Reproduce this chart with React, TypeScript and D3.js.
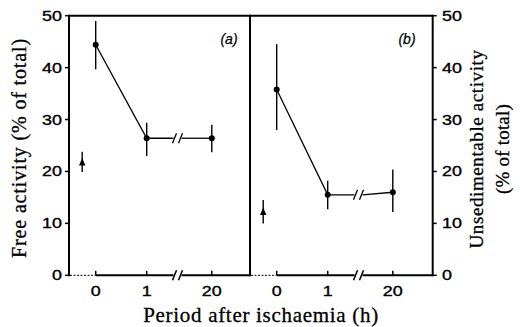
import React from "react";
import * as d3 from "d3";

// ---- data ----
const hours = [0, 1, 20];
const hourLabels = ["0", "1", "20"];
const yTicks = [0, 10, 20, 30, 40, 50];

// (a) Free activity
const freeMean = [44.4, 26.4, 26.4];
const freeLow = [39.7, 23.0, 23.7];
const freeHigh = [49.0, 29.4, 29.0];

// (b) Unsedimentable activity
const unsedMean = [35.8, 15.5, 16.0];
const unsedLow = [28.0, 12.7, 12.2];
const unsedHigh = [44.5, 18.2, 20.4];

// controls (arrow markers) [a, b]
const controlMean = [21.8, 12.3];
const controlLow = [19.9, 10.0];
const controlHigh = [23.8, 14.5];

const panelLabels = ["(a)", "(b)"];

const W = 520;
const H = 327;
const top = 15.7;
const bottom = 275.3;
const panelX = [69, 250];
const panelRight = 432.7;

const y = d3.scaleLinear().domain([0, 50]).range([bottom, top]);
// piecewise (broken) time axis within a panel; -0.25 = control position
const xIn = d3.scaleLinear().domain([-0.25, 0, 1, 20]).range([13.2, 26.7, 77.7, 142.8]);
const breakOff = 108.5;

const sans = "'Liberation Sans', Arial, sans-serif";
const serif = "'Liberation Serif', 'Times New Roman', serif";
const SX = 1.28;

function Num({ x, y: yy, anchor, children }: { x: number; y: number; anchor: string; children: React.ReactNode }) {
  return (
    <text
      transform={`translate(${x},${yy}) scale(${SX},1)`}
      textAnchor={anchor as any}
      fontFamily={sans}
      fontSize={14}
      fill="#000"
      stroke="#000"
      strokeWidth={0.35}
    >
      {children}
    </text>
  );
}

function Slashes({ cx, cy, sw }: { cx: number; cy: number; sw: number }) {
  const g = 3;
  return (
    <g stroke="#000" strokeWidth={sw}>
      <line x1={cx - g - 2} y1={cy + 5} x2={cx - g + 2} y2={cy - 5} />
      <line x1={cx + g - 2} y1={cy + 5} x2={cx + g + 2} y2={cy - 5} />
    </g>
  );
}

function Panel({ idx, mean, low, high }: { idx: number; mean: number[]; low: number[]; high: number[] }) {
  const ox = panelX[idx];
  const px = (h: number) => ox + xIn(h);
  const bx = ox + breakOff;
  const gap = 4;
  const pRight = idx === 0 ? panelX[1] : panelRight;
  const line = d3.line<[number, number]>();
  const seg1: [number, number][] = [
    [px(hours[0]), y(mean[0])],
    [px(hours[1]), y(mean[1])],
    [bx - gap, y(mean[1])],
  ];
  const seg2: [number, number][] = [
    [bx + gap, y(mean[1])],
    [px(hours[2]), y(mean[2])],
  ];
  const cx = px(-0.25);
  const cy = y(controlMean[idx]);
  return (
    <g>
      {/* x axis */}
      <line x1={ox + 1} y1={bottom} x2={px(0)} y2={bottom} stroke="#000" strokeWidth={1} strokeDasharray="2,1.5" />
      <line x1={px(0)} y1={bottom} x2={bx - gap} y2={bottom} stroke="#000" strokeWidth={2} />
      <line x1={bx + gap} y1={bottom} x2={pRight} y2={bottom} stroke="#000" strokeWidth={2} />
      <Slashes cx={bx} cy={bottom} sw={1.5} />
      {hours.map((h, i) => (
        <g key={i}>
          <line x1={px(h)} y1={bottom} x2={px(h)} y2={bottom - 4.5} stroke="#000" strokeWidth={1.5} />
          <Num x={px(h)} y={296} anchor="middle">
            {hourLabels[i]}
          </Num>
        </g>
      ))}
      {/* data lines */}
      <path d={line(seg1) || ""} fill="none" stroke="#000" strokeWidth={1.3} />
      <path d={line(seg2) || ""} fill="none" stroke="#000" strokeWidth={1.3} />
      <Slashes cx={bx} cy={y(mean[1])} sw={1.3} />
      {hours.map((h, i) => (
        <g key={"e" + i}>
          <line x1={px(h)} x2={px(h)} y1={y(low[i])} y2={y(high[i])} stroke="#000" strokeWidth={1.4} />
          <circle cx={px(h)} cy={y(mean[i])} r={3} fill="#000" />
        </g>
      ))}
      {/* control arrow */}
      <line x1={cx} x2={cx} y1={y(controlLow[idx])} y2={y(controlHigh[idx])} stroke="#000" strokeWidth={1.4} />
      <path d={`M${cx},${cy - 4} L${cx + 3.2},${cy + 3.5} L${cx - 3.2},${cy + 3.5} Z`} fill="#000" />
      <text
        x={idx === 0 ? 229 : 407}
        y={44}
        textAnchor="middle"
        fontFamily={sans}
        fontStyle="italic"
        fontSize={14}
        fill="#000"
        stroke="#000"
        strokeWidth={0.25}
      >
        {panelLabels[idx]}
      </text>
    </g>
  );
}

export default function App() {
  const titleProps = {
    textAnchor: "middle" as const,
    fontFamily: serif,
    fill: "#000",
    stroke: "#000",
    strokeWidth: 0.3,
  };
  return (
    <svg width={W} height={H} style={{ position: "absolute", left: 0, top: 0, background: "#fff" }}>
      <rect width={W} height={H} fill="#fff" />
      {/* frame */}
      <line x1={panelX[0]} y1={top} x2={panelRight} y2={top} stroke="#000" strokeWidth={2} />
      <line x1={panelX[0]} y1={top - 1} x2={panelX[0]} y2={bottom + 1} stroke="#000" strokeWidth={2} />
      <line x1={panelX[1]} y1={top - 1} x2={panelX[1]} y2={bottom + 1} stroke="#000" strokeWidth={2} />
      <line x1={panelRight} y1={top - 1} x2={panelRight} y2={bottom + 1} stroke="#000" strokeWidth={2} />
      {/* y ticks */}
      {yTicks.map((t) => (
        <g key={t}>
          <line x1={panelX[0] - 4} x2={panelX[0]} y1={y(t)} y2={y(t)} stroke="#000" strokeWidth={1.5} />
          <Num x={62} y={y(t) + 5} anchor="end">
            {t}
          </Num>
          <line x1={panelRight} x2={panelRight + 4} y1={y(t)} y2={y(t)} stroke="#000" strokeWidth={1.5} />
          <Num x={442} y={y(t) + 5} anchor="start">
            {t}
          </Num>
        </g>
      ))}
      <Panel idx={0} mean={freeMean} low={freeLow} high={freeHigh} />
      <Panel idx={1} mean={unsedMean} low={unsedLow} high={unsedHigh} />
      {/* titles */}
      <text transform="translate(26,148) rotate(-90)" fontSize={20} letterSpacing={0.85} {...titleProps}>
        Free activity (% of total)
      </text>
      <text transform="translate(483,149) rotate(-90)" fontSize={19} letterSpacing={0.6} {...titleProps}>
        Unsedimentable activity
      </text>
      <text transform="translate(509,149) rotate(-90)" fontSize={19} letterSpacing={0.2} {...titleProps}>
        (% of total)
      </text>
      <text x={261} y={322} fontSize={21} letterSpacing={0.7} {...titleProps}>
        Period after ischaemia (h)
      </text>
    </svg>
  );
}
